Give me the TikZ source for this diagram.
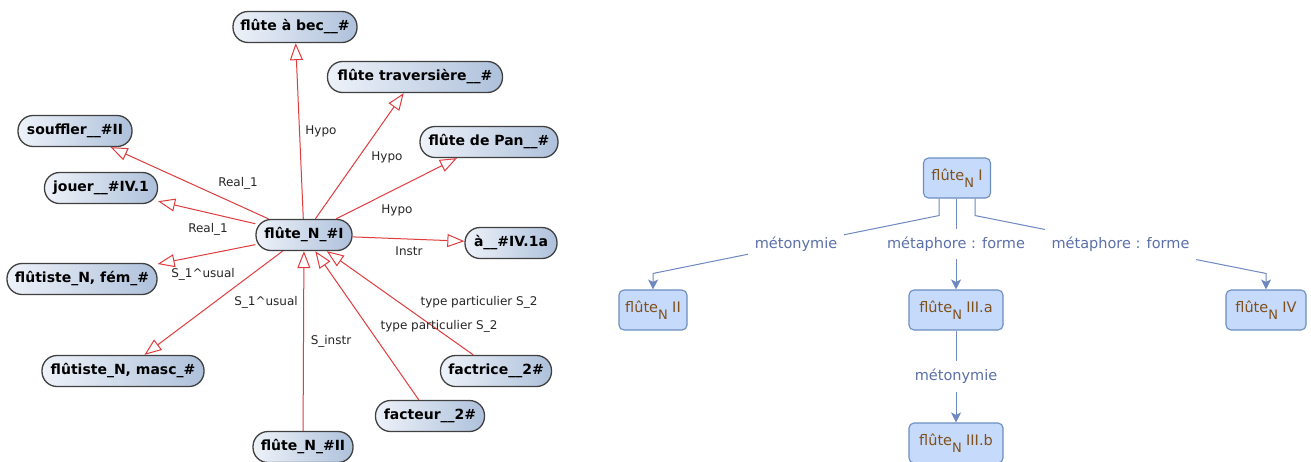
\documentclass[tikz,border=0pt]{standalone}
\usepackage{fontspec}
\setmainfont{DejaVu Sans}
\usetikzlibrary{arrows.meta,calc}
\definecolor{edgered}{HTML}{E23B3D}
\definecolor{nodeborder}{HTML}{404040}
\definecolor{fillL}{HTML}{EEF2F9}
\definecolor{fillR}{HTML}{AEC1DB}
\definecolor{rfill}{HTML}{C6DAFC}
\definecolor{rborder}{HTML}{6C8EBF}
\definecolor{rtext}{HTML}{80501A}
\definecolor{rlabel}{HTML}{5B70A8}
\definecolor{redge}{HTML}{6E88C0}
\begin{document}
\begin{tikzpicture}[x=1pt,y=-1pt,
  lnode/.style={draw=nodeborder, line width=1.3pt, rounded corners=15pt,
    left color=fillL, right color=fillR, minimum height=31pt, inner sep=0pt,
    font=\fontsize{14}{16}\selectfont\bfseries, text=black},
  redgeline/.style={draw=edgered, line width=1pt,
    -{Triangle[open, length=17pt, width=13pt, fill=white]}},
  llabel/.style={font=\fontsize{12}{14}\selectfont, text=black!85, inner sep=1pt},
  rnode/.style={draw=rborder, line width=1.1pt, fill=rfill, rounded corners=5pt,
    minimum height=40pt, inner sep=0pt, text=rtext, font=\fontsize{14.5}{16}\selectfont},
  blabel/.style={fill=white, inner xsep=7pt, inner ysep=8pt, text=rlabel,
    font=\fontsize{14.5}{16}\selectfont},
  bedge/.style={draw=redge, line width=1pt, -{Stealth[length=10pt,width=10pt,inset=2.5pt]}}
]
\useasboundingbox (0,0) rectangle (1311,461);
\fill[white] (0,0) rectangle (1311,461);

% ---------- left graph ----------
\node[lnode, minimum width=96pt]  (c)    at (304,235) {flûte\_N\_\#I};
\node[lnode, minimum width=124pt] (bec)  at (295,27)  {flûte à bec\_\_\#};
\node[lnode, minimum width=175pt] (trav) at (415,77)  {flûte traversière\_\_\#};
\node[lnode, minimum width=114pt] (souf) at (75,131)  {souffler\_\_\#II};
\node[lnode, minimum width=138pt] (pan)  at (489,142) {flûte de Pan\_\_\#};
\node[lnode, minimum width=113pt] (jou)  at (101,188) {jouer\_\_\#IV.1};
\node[lnode, minimum width=92pt]  (a4)   at (511,243) {à\_\_\#IV.1a};
\node[lnode, minimum width=150pt] (fem)  at (82,279)  {flûtiste\_N, fém\_\#};
\node[lnode, minimum width=162pt] (masc) at (123,371) {flûtiste\_N, masc\_\#};
\node[lnode, minimum width=111pt] (fct)  at (496,371) {factrice\_\_2\#};
\node[lnode, minimum width=109pt] (fac)  at (430,416) {facteur\_\_2\#};
\node[lnode, minimum width=100pt] (f2)   at (303,447) {flûte\_N\_\#II};

\draw[redgeline] (c) -- (bec);
\draw[redgeline] (c) -- (trav);
\draw[redgeline] (c) -- (pan);
\draw[redgeline] (c) -- (souf);
\draw[redgeline] (c) -- (jou);
\draw[redgeline] (c) -- (fem);
\draw[redgeline] (c) -- (masc);
\draw[redgeline] (c) -- (a4);
\draw[redgeline] (f2) -- (c);
\draw[redgeline] (fac) -- (c);
\draw[redgeline] (fct) -- (c);

\node[llabel] (lh1) at (321,131) {Hypo};
\node[llabel] (lh2) at (387,157) {Hypo};
\node[llabel] (lh3) at (397,210) {Hypo};
\node[llabel] (lr1) at (238,183) {Real\_1};
\node[llabel] (lr2) at (208,229) {Real\_1};
\node[llabel] (lin) at (409,251) {Instr};
\node[llabel] (ls1) at (203,274) {S\_1\^{}usual};
\node[llabel] (ls2) at (266,302) {S\_1\^{}usual};
\node[llabel] (lsi) at (331,341) {S\_instr};
\node[llabel] (lt1) at (479,302) {type particulier S\_2};
\node[llabel] (lt2) at (439,326) {type particulier S\_2};

% ---------- right tree ----------
\newcommand{\flN}[1]{flûte\raisebox{-0.45em}{\fontsize{13}{13}\selectfont N}\hspace{0.3em}#1}
\node[rnode, minimum width=67pt] (r1) at (957,178)  {\flN{I}};
\node[rnode, minimum width=68pt] (r2) at (653,310)  {\flN{II}};
\node[rnode, minimum width=94pt] (r3) at (956,310)  {\flN{III.a}};
\node[rnode, minimum width=80pt] (r4) at (1266,310) {\flN{IV}};
\node[rnode, minimum width=94pt] (r5) at (956,443)  {\flN{III.b}};

\draw[bedge] ($(r1.south)+(-18,0)$) -- ++(0,17)
   -- node[blabel] (m1) {métonymie} ($(r2.north)+(0,-16)$) -- (r2.north);
\draw[bedge] (r1.south -| r3.north) -- node[blabel] (m2) {métaphore : forme} (r3.north);
\draw[bedge] ($(r1.south)+(18,0)$) -- ++(0,17)
   -- node[blabel] (m3) {métaphore : forme} ($(r4.north)+(0,-16)$) -- (r4.north);
\draw[bedge] (r3.south) -- node[blabel] (m4) {métonymie} (r5.north);
\end{tikzpicture}
\end{document}
